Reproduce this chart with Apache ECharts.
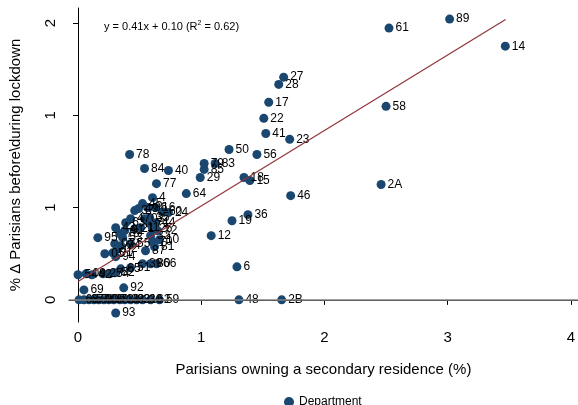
<!DOCTYPE html>
<html>
<head>
<meta charset="utf-8">
<script src="https://cdn.jsdelivr.net/npm/echarts@6/dist/echarts.min.js"></script>
<style>html,body{margin:0;padding:0;background:#fff;}#c{width:578px;height:405px;}</style>
</head>
<body>
<div id="c"></div>
<script>
const departments = ["89","61","14","58","2A","27","28","17","22","41","23","50","56","83","79","85","29","40","84","78","77","64","18","15","46","36","19","12","6","48","2B",
"4","45","37","49","86","16","60","24","35","03","47","63","43","91","21","11","71","44","26","72","32","95","53","76","07","34","02","01","05","94","55","10","70","87","81","39","80","66","51","65","52","74","25","42","09","54","69","92","93",
"68","67","57","88","90","08","38","73","13","33","82","31","30","62","59"];
const xValues = [3.016,2.524,3.468,2.500,2.460,1.669,1.629,1.548,1.508,1.524,1.718,1.226,1.452,1.113,1.024,1.024,0.992,0.734,0.540,0.419,0.637,0.879,1.347,1.395,1.726,1.379,1.250,1.081,1.290,1.306,1.653,
0.605,0.524,0.460,0.492,0.565,0.629,0.685,0.734,0.581,0.540,0.427,0.387,0.306,0.379,0.460,0.508,0.581,0.629,0.605,0.645,0.589,0.161,0.363,0.339,0.298,0.347,0.323,0.282,0.218,0.306,0.427,0.661,0.605,0.548,0.621,0.524,0.589,0.637,0.427,0.347,0.298,0.258,0.202,0.113,0.065,0.000,0.048,0.371,0.306,
0.008,0.048,0.089,0.129,0.169,0.210,0.250,0.290,0.339,0.379,0.427,0.476,0.524,0.589,0.661];
const yValues = [1.522,1.473,1.375,1.049,0.625,1.207,1.168,1.071,0.984,0.902,0.870,0.815,0.788,0.739,0.739,0.707,0.663,0.701,0.712,0.788,0.630,0.576,0.663,0.647,0.565,0.462,0.429,0.348,0.179,0,0,
0.554,0.522,0.484,0.495,0.500,0.500,0.478,0.473,0.446,0.440,0.440,0.418,0.391,0.375,0.386,0.391,0.413,0.418,0.386,0.375,0.348,0.337,0.337,0.359,0.304,0.293,0.277,0.255,0.250,0.234,0.304,0.326,0.315,0.266,0.288,0.196,0.196,0.196,0.174,0.168,0.147,0.141,0.141,0.136,0.141,0.136,0.054,0.065,-0.071,
0,0,0,0,0,0,0,0,0,0,0,0,0,0,0];
const fitX = [0, 3.47];
const fitY = [0.10, 1.52];
const xTicks = [0, 1, 2, 3, 4];
const yTicks = [0, 0.5, 1, 1.5];
const yTickLabels = ["0", "1", "1", "2"];

const FONT = "'Liberation Sans', Arial, sans-serif";
const chart = echarts.init(document.getElementById('c'), null, {renderer: 'canvas'});
const option = {
  animation: false,
  textStyle: {fontFamily: FONT},
  title: {
    text: 'y = 0.41x + 0.10 (R{sup|2} = 0.62)',
    left: 99, top: 15,
    textStyle: {fontSize: 11, fontWeight: 'normal', color: '#000', fontFamily: FONT,
      rich: {sup: {fontSize: 7, padding: [0, 0, 6, 0], color: '#000', fontFamily: FONT}}}
  },
  legend: {
    data: ['Department'], left: 279, top: 391, itemWidth: 10, itemHeight: 10, itemGap: 5,
    textStyle: {fontSize: 12, color: '#000', fontFamily: FONT}
  },
  grid: {left: 66, right: 0, top: 8, bottom: 83},
  xAxis: {
    type: 'value', min: -0.073, max: 4.056,
    name: 'Parisians owning a secondary residence (%)', nameLocation: 'middle', nameGap: 40,
    nameTextStyle: {fontSize: 15, color: '#000', fontFamily: FONT},
    axisLine: {show: true, lineStyle: {color: '#000', width: 1}},
    axisTick: {show: true, customValues: xTicks, length: 5, lineStyle: {color: '#000'}},
    axisLabel: {customValues: xTicks, fontSize: 15, color: '#000', margin: 8, fontFamily: FONT},
    splitLine: {show: false}
  },
  yAxis: {
    type: 'value', min: -0.12, max: 1.582,
    name: '% \u0394 Parisians before\\during lockdown', nameLocation: 'middle', nameGap: 46,
    nameTextStyle: {fontSize: 15, color: '#000', fontFamily: FONT},
    axisLine: {show: true, lineStyle: {color: '#000', width: 1}},
    axisTick: {show: true, customValues: yTicks, length: 5, lineStyle: {color: '#000'}},
    axisLabel: {customValues: yTicks, rotate: 90, fontSize: 15, color: '#000', margin: 11, fontFamily: FONT,
      formatter: function (v) {
        const i = yTicks.findIndex(t => Math.abs(t - v) < 1e-6);
        return i >= 0 ? yTickLabels[i] : '';
      }},
    splitLine: {show: false}
  },
  series: [
    {
      name: 'Department', type: 'scatter', symbol: 'circle', symbolSize: 9, z: 3,
      itemStyle: {color: '#1a476f', opacity: 1},
      label: {show: true, position: 'right', distance: 2, formatter: '{b}', fontSize: 12, color: '#000', fontFamily: FONT},
      data: departments.map((d, i) => ({name: d, value: [xValues[i], yValues[i]]})),
      markLine: {
        silent: true, symbol: 'none', label: {show: false},
        lineStyle: {color: '#808080', width: 1.5, type: 'solid'},
        data: [{yAxis: 0}]
      }
    },
    {
      name: 'fit', type: 'line', symbol: 'none', z: 4,
      lineStyle: {color: '#90353b', width: 1.2},
      data: fitX.map((x, i) => [x, fitY[i]])
    }
  ]
};
chart.setOption(option);
</script>
</body>
</html>
